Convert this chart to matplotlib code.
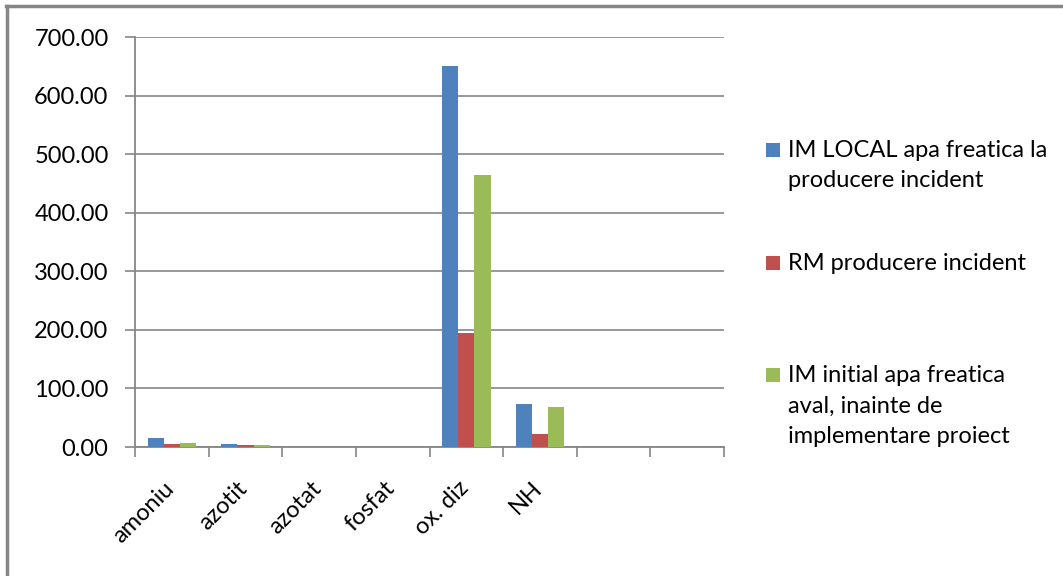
import matplotlib
matplotlib.use("Agg")
import matplotlib.pyplot as plt
from matplotlib.lines import Line2D
from matplotlib.patches import Rectangle
from matplotlib.transforms import ScaledTranslation
import numpy as np

categories = ["amoniu", "azotit", "azotat", "fosfat", "ox. diz", "NH", "", ""]
series_names = [["IM LOCAL apa freatica la", "producere incident"],
                ["RM producere incident"],
                ["IM initial apa freatica", "aval, inainte de", "implementare proiect"]]
im_local = [15.0, 5.5, 0.0, 0.0, 650.0, 73.0, 0.0, 0.0]
rm_prod = [5.5, 4.0, 0.0, 0.0, 194.0, 22.0, 0.0, 0.0]
im_initial = [7.0, 4.0, 0.0, 0.0, 464.0, 68.0, 0.0, 0.0]
yticks = [0, 100, 200, 300, 400, 500, 600, 700]
colors = ["#4F81BD", "#C0504D", "#9BBB59"]

plt.rcParams['font.family'] = ['Lato', 'DejaVu Sans']
W, H = 1063, 576
FS = 17
fig = plt.figure(figsize=(W / 100, H / 100), dpi=100)
ax = fig.add_axes([135 / W, 1 - 447 / H, (724 - 135) / W, (447 - 37) / H])

n = len(categories)
x = np.arange(n)
bw = 0.22
for i, vals in enumerate([im_local, rm_prod, im_initial]):
    ax.bar(x + (i - 1) * bw, vals, width=bw, color=colors[i], zorder=3)

ax.set_xlim(-0.5, n - 0.5)
ax.set_ylim(0, 700)
ax.set_yticks(yticks)
ax.set_yticklabels([f"{v:.2f}" for v in yticks], fontsize=FS, color="#000000")
ax.yaxis.grid(True, color="#868686", linewidth=1.2, zorder=0)
ax.set_axisbelow(True)

ax.set_xticks(np.arange(n + 1) - 0.5)
ax.set_xticklabels([])
ax.set_xticks(x, minor=True)
ax.set_xticklabels(categories, minor=True, rotation=45, ha="right", fontsize=FS)
ax.tick_params(axis="x", which="minor", length=0, pad=22)
ax.tick_params(axis="x", which="major", length=7, color="#868686", width=1.2)
ax.tick_params(axis="y", length=7, color="#868686", width=1.2, pad=12)
shift = ScaledTranslation(6 / 100, 0, fig.dpi_scale_trans)
for lab in ax.get_xticklabels(minor=True):
    lab.set_transform(lab.get_transform() + shift)

for s in ["top", "right"]:
    ax.spines[s].set_visible(False)
for s in ["left", "bottom"]:
    ax.spines[s].set_color("#868686")
    ax.spines[s].set_linewidth(1.3)

# legend drawn as square swatches and text lines (pixel positions from top)
entry_baselines = [[157, 187], [270], [382, 413, 443]]
for c, lines, bases in zip(colors, series_names, entry_baselines):
    top = bases[0] - 14
    fig.add_artist(Rectangle((766 / W, 1 - (top + 14) / H), 14 / W, 14 / H,
                             transform=fig.transFigure, facecolor=c, edgecolor="none"))
    for line, b in zip(lines, bases):
        fig.text(788 / W, 1 - b / H, line, fontsize=FS, va="baseline", ha="left")

fig.add_artist(Line2D([7 / W, 7 / W], [0, 1 - 6 / H], transform=fig.transFigure,
                      color="#868686", linewidth=2.5))
fig.add_artist(Line2D([6 / W, 1], [1 - 6 / H, 1 - 6 / H], transform=fig.transFigure,
                      color="#868686", linewidth=2.5))

fig.savefig("out.png", dpi=100, facecolor="white")
